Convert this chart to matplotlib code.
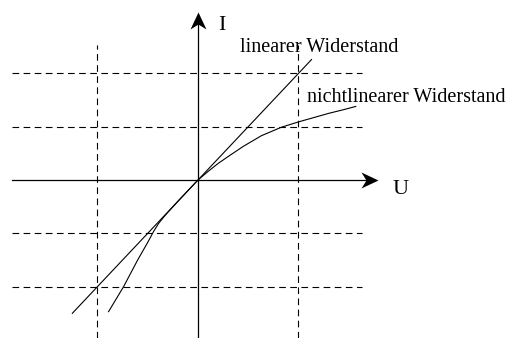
import numpy as np
import matplotlib
matplotlib.use("Agg")
import matplotlib.pyplot as plt
from matplotlib.path import Path

# Kennlinien (U und I in Gittereinheiten)
lin_u = [-1.25, 1.13]
lin_i = [-2.5, 2.26]

nl_u = [-0.89, -0.74, -0.6, -0.5, -0.44, -0.39, -0.33, -0.2, -0.1, 0.0,
        0.1, 0.2, 0.3, 0.45, 0.63, 0.83, 1.0, 1.15, 1.3, 1.45, 1.57]
nl_i = [-2.47, -2.0, -1.5, -1.17, -0.96, -0.81, -0.67, -0.4, -0.2, 0.0,
        0.16, 0.31, 0.44, 0.63, 0.83, 0.99, 1.09, 1.17, 1.25, 1.32, 1.38]

grid_u = [-1, 1]
grid_i = [-2, -1, 1, 2]

fig = plt.figure(figsize=(5.07, 3.38), dpi=100)
ax = fig.add_axes([0, 0, 1, 1])
ax.set_xlim(-1.97, 3.075)
ax.set_ylim(-2.964, 3.377)
ax.axis("off")

# Hilfslinien
for u in grid_u:
    ax.plot([u, u], [-2.964, 2.53], color="black", lw=0.8, dashes=(6, 4))
for i in grid_i:
    ax.plot([-1.85, 1.63], [i, i], color="black", lw=0.8, dashes=(6, 4))

# Achsen
ax.plot([-1.85, 1.70], [0, 0], color="black", lw=0.9)
ax.plot([0, 0], [-2.964, 3.0], color="black", lw=0.9)

# Pfeilspitzen (Spitze im Ursprung des Pfades)
head_r = Path([(0, 0), (-17, 8), (-12, 0), (-17, -8), (0, 0)],
              [Path.MOVETO, Path.LINETO, Path.LINETO, Path.LINETO, Path.CLOSEPOLY])
head_u = Path([(0, 0), (-8, -17), (0, -12), (8, -17), (0, 0)],
              [Path.MOVETO, Path.LINETO, Path.LINETO, Path.LINETO, Path.CLOSEPOLY])
ax.plot([1.79], [0], marker=head_r, markersize=24.5, color="black", mew=0)
ax.plot([0], [3.15], marker=head_u, markersize=24.5, color="black", mew=0)

# Kennlinien
ax.plot(lin_u, lin_i, color="black", lw=0.8)
ax.plot(nl_u, nl_i, color="black", lw=0.8)

# Beschriftungen
ax.text(0.2, 2.9, "I", fontsize=16, family="Liberation Serif", ha="left", va="center")
ax.text(1.94, -0.18, "U", fontsize=16, family="Liberation Serif", ha="left", va="center")
ax.text(0.42, 2.48, "linearer Widerstand", fontsize=14.5, family="Liberation Serif", ha="left", va="center")
ax.text(1.08, 1.55, "nichtlinearer Widerstand", fontsize=14.5, family="Liberation Serif", ha="left", va="center")

fig.savefig("out.png", dpi=100)
